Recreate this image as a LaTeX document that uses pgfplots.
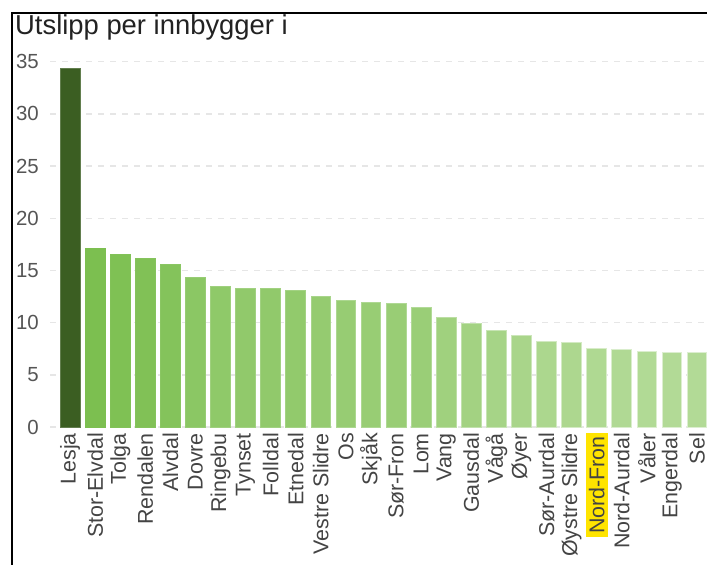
\documentclass[border=0pt]{standalone}
\usepackage{fontspec}
\setmainfont{Liberation Sans}
\usepackage{pgfplots}
\pgfplotsset{compat=1.18}

\definecolor{lesja}{RGB}{59,94,34}
\definecolor{cA}{RGB}{124,191,80}
\definecolor{cB}{RGB}{178,218,150}
\definecolor{gridc}{RGB}{230,230,230}
\definecolor{tickc}{RGB}{85,85,85}
\definecolor{labc}{RGB}{68,68,68}
\definecolor{hl}{RGB}{255,228,0}

% one bar: x, value, share of the light colour
\newcommand{\kbar}[3]{\addplot[ybar, bar width=0.79, bar shift=0pt, fill=cB!#3!cA, draw=white!55!cB!#3!cA, line width=0.8bp] coordinates {(#1,#2)};}

\begin{document}
\begin{tikzpicture}
\useasboundingbox (0,0) rectangle (707bp,565bp);
\begin{axis}[
    at={(50bp,138bp)}, anchor=south west,
    scale only axis, width=657bp, height=365.3bp,
    xmin=-0.8, xmax=25.4, ymin=0, ymax=35,
    axis line style={draw=none}, major tick length=0pt,
    ytick={0,5,...,35},
    ymajorgrids, grid style={gridc, line width=1.4bp, dash pattern=on 6bp off 6bp},
    /pgf/number format/assume math mode=true,
    yticklabel style={font=\fontsize{20.5}{24}\selectfont, text=tickc, anchor=east, inner sep=0pt, xshift=-11bp},
    xtick={0,...,25},
    xticklabels={Lesja,Stor-Elvdal,Tolga,Rendalen,Alvdal,Dovre,Ringebu,Tynset,Folldal,Etnedal,Vestre Slidre,Os,Skjåk,Sør-Fron,Lom,Vang,Gausdal,Vågå,Øyer,Sør-Aurdal,Øystre Slidre,{\setlength{\fboxsep}{3bp}\colorbox{hl}{Nord-Fron}},Nord-Aurdal,Våler,Engerdal,Sel},
    xticklabel style={font=\fontsize{21.5}{25}\selectfont, text=labc, rotate=90, anchor=east, inner sep=0pt, inner xsep=6bp},
    clip=false,
]
\addplot[ybar, bar width=0.79, bar shift=0pt, fill=lesja, draw=lesja!80!white, line width=0.8bp] coordinates {(0,34.4)};
\kbar{1}{17.1}{0}
\kbar{2}{16.5}{6}
\kbar{3}{16.2}{9}
\kbar{4}{15.6}{15}
\kbar{5}{14.3}{28}
\kbar{6}{13.5}{36}
\kbar{7}{13.3}{38}
\kbar{8}{13.3}{38}
\kbar{9}{13.1}{40}
\kbar{10}{12.5}{46}
\kbar{11}{12.1}{50}
\kbar{12}{11.9}{52}
\kbar{13}{11.8}{53}
\kbar{14}{11.5}{56}
\kbar{15}{10.5}{66}
\kbar{16}{9.9}{72}
\kbar{17}{9.3}{78}
\kbar{18}{8.8}{83}
\kbar{19}{8.2}{89}
\kbar{20}{8.1}{90}
\kbar{21}{7.55}{95}
\kbar{22}{7.4}{97}
\kbar{23}{7.2}{99}
\kbar{24}{7.1}{100}
\kbar{25}{7.1}{100}
\end{axis}
\node[anchor=base west, inner sep=0pt, font=\fontsize{27.5}{32}\selectfont, text={rgb,255:red,34;green,34;blue,34}] at (15bp,530bp) {Utslipp per innbygger i};
\draw[line width=2bp] (12bp,0) -- (12bp,551.5bp) -- (707bp,551.5bp);
\end{tikzpicture}
\end{document}
